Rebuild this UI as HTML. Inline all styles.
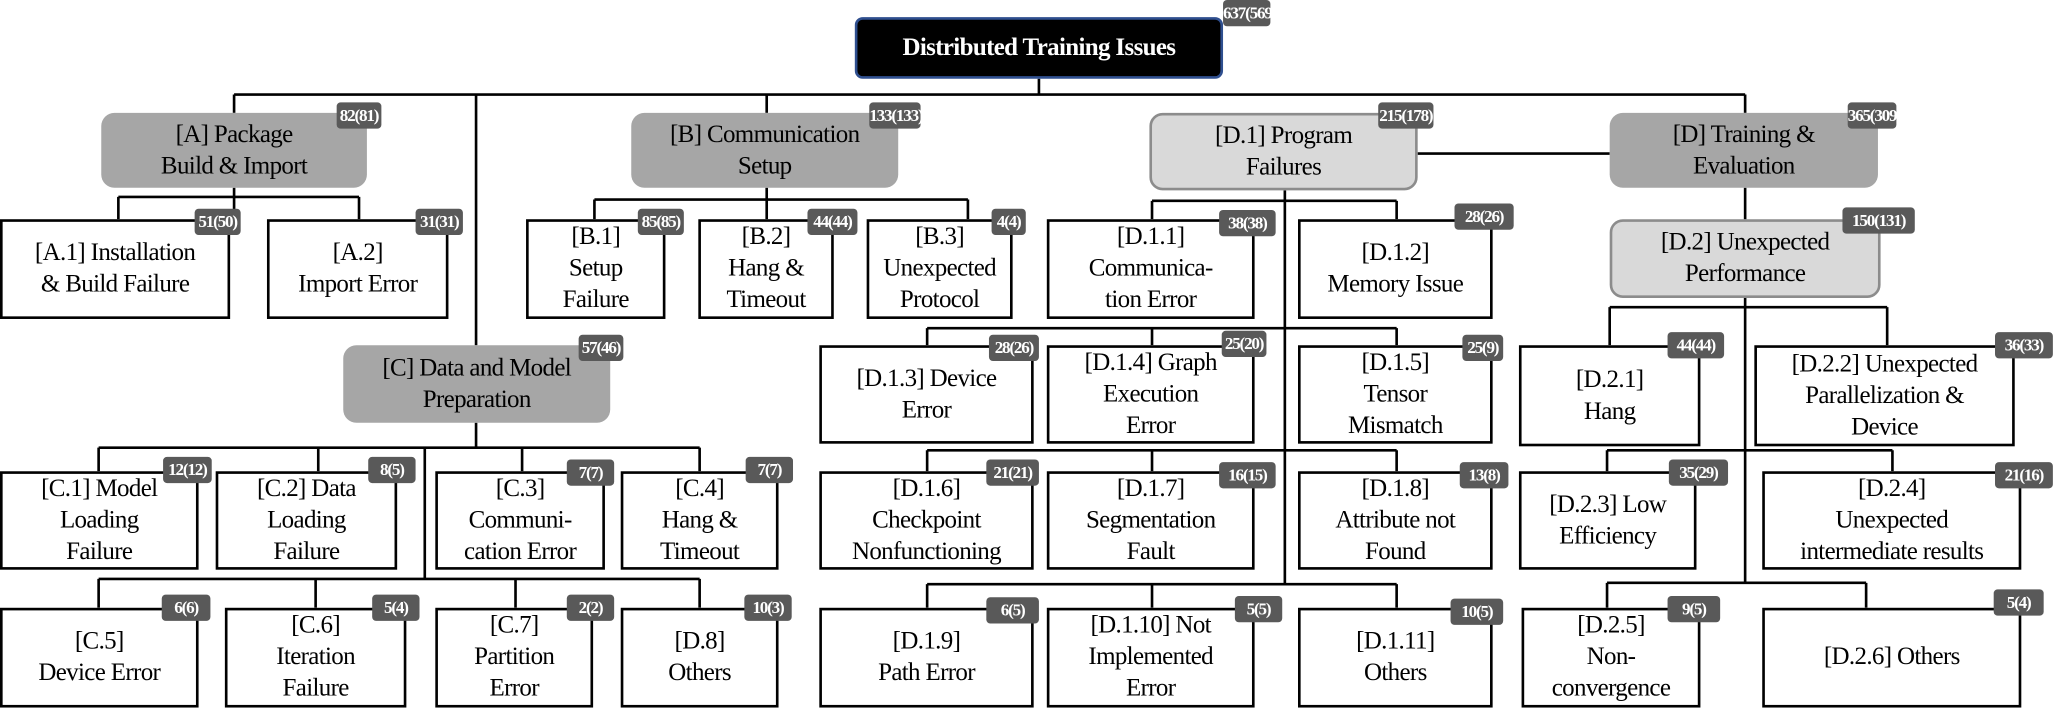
<!DOCTYPE html>
<html><head><meta charset="utf-8"><style>
html,body{margin:0;padding:0;background:#fff;}
body{width:2062px;height:722px;overflow:hidden;position:relative;}
#c{position:absolute;left:0;top:0;width:1568px;height:550px;transform:scale(1.3151,1.3127);transform-origin:0 0;font-family:"Liberation Serif","Times New Roman","DejaVu Serif",serif;}
.b{position:absolute;box-sizing:border-box;border:2px solid #000;background:#fff;display:flex;align-items:center;justify-content:center;text-align:center;font-size:19px;line-height:24px;letter-spacing:-0.5px;color:#000;font-family:"Liberation Serif","Times New Roman",serif;}
.g{background:#a6a6a6;border:none;border-radius:10px;}
.l{background:#d9d9d9;border:2px solid #8c8c8c;border-radius:10px;}
.k{position:absolute;background:#595959;color:#fff;font-weight:bold;font-size:13px;line-height:20px;height:20px;border-radius:3px;text-align:center;letter-spacing:-0.9px;white-space:nowrap;font-family:"Liberation Serif","Times New Roman",serif;}
svg{position:absolute;left:0;top:0;}
</style></head><body><div id="c">
<svg width="1568" height="550"><g stroke="#000" stroke-width="2" fill="none">
<path d="M790 60V72M178 72H1327M178 72V86M583 72V86M1327 72V86M362 72V263M1078 117H1224"/>
<path d="M178 143V167M90 150H273M90 150V167M273 150V167"/>
<path d="M583 143V167M452 152H736M452 152V167M736 152V167"/>
<path d="M362 322V341M75 341H532M75 341V359M242 341V359M397 341V359M532 341V359M323 341V441M75 441H532M75 441V463M240 441V463M392 441V463M532 441V463"/>
<path d="M977 145V445M876 153H1062M876 153V167M1062 153V167M705 250H1062M705 250V263M876 250V263M1062 250V263M705 343H1062M705 343V359M876 343V359M1062 343V359M705 445H1062M705 445V463M876 445V463M1062 445V463"/>
<path d="M1327 143V167M1327 227V444M1224 234H1435M1224 234V263M1435 234V263M1222 343H1439M1222 343V359M1439 343V359M1222 444H1419M1222 444V463M1419 444V463"/>
</g></svg>

<div class="b" style="left:650px;top:13px;width:280px;height:47px;background:#000;color:#fff;border:2px solid #2f4f8f;border-radius:6px;font-weight:bold;font-size:19px;">Distributed Training Issues</div>
<div class="k" style="left:930px;top:0;width:36px;">637(569)</div>

<div class="b g" style="left:77px;top:86px;width:202px;height:57px;">[A] Package<br>Build &amp; Import</div><div class="k" style="left:256px;top:78px;width:34px;">82(81)</div>
<div class="b g" style="left:480px;top:86px;width:203px;height:57px;">[B] Communication<br>Setup</div><div class="k" style="left:661px;top:78px;width:39px;">133(133)</div>
<div class="b l" style="left:874px;top:86px;width:204px;height:59px;">[D.1] Program<br>Failures</div><div class="k" style="left:1048px;top:78px;width:42px;">215(178)</div>
<div class="b g" style="left:1224px;top:86px;width:204px;height:57px;">[D] Training &amp;<br>Evaluation</div><div class="k" style="left:1405px;top:78px;width:37px;">365(309)</div>

<div class="b" style="left:0;top:167px;width:175px;height:76px;">[A.1] Installation<br>&amp; Build Failure</div><div class="k" style="left:148px;top:159px;width:35px;">51(50)</div>
<div class="b" style="left:203px;top:167px;width:138px;height:76px;">[A.2]<br>Import Error</div><div class="k" style="left:316px;top:159px;width:36px;">31(31)</div>
<div class="b" style="left:400px;top:167px;width:106px;height:76px;">[B.1]<br>Setup<br>Failure</div><div class="k" style="left:485px;top:159px;width:35px;">85(85)</div>
<div class="b" style="left:531px;top:167px;width:103px;height:76px;">[B.2]<br>Hang &amp;<br>Timeout</div><div class="k" style="left:614px;top:159px;width:38px;">44(44)</div>
<div class="b" style="left:659px;top:167px;width:111px;height:76px;">[B.3]<br>Unexpected<br>Protocol</div><div class="k" style="left:754px;top:159px;width:26px;">4(4)</div>

<div class="b g" style="left:261px;top:263px;width:203px;height:59px;">[C] Data and Model<br>Preparation</div><div class="k" style="left:440px;top:255px;width:34px;">57(46)</div>

<div class="b" style="left:796px;top:167px;width:158px;height:76px;">[D.1.1]<br>Communica-<br>tion Error</div><div class="k" style="left:927px;top:160px;width:43px;">38(38)</div>
<div class="b" style="left:987px;top:167px;width:148px;height:76px;">[D.1.2]<br>Memory Issue</div><div class="k" style="left:1106px;top:155px;width:45px;">28(26)</div>

<div class="b l" style="left:1224px;top:167px;width:206px;height:60px;">[D.2] Unexpected<br>Performance</div><div class="k" style="left:1401px;top:158px;width:55px;">150(131)</div>

<div class="b" style="left:623px;top:263px;width:163px;height:75px;">[D.1.3] Device<br>Error</div><div class="k" style="left:752px;top:255px;width:38px;">28(26)</div>
<div class="b" style="left:796px;top:263px;width:158px;height:75px;">[D.1.4] Graph<br>Execution<br>Error</div><div class="k" style="left:929px;top:252px;width:34px;">25(20)</div>
<div class="b" style="left:987px;top:263px;width:148px;height:75px;">[D.1.5]<br>Tensor<br>Mismatch</div><div class="k" style="left:1112px;top:255px;width:31px;">25(9)</div>
<div class="b" style="left:1155px;top:263px;width:138px;height:77px;">[D.2.1]<br>Hang</div><div class="k" style="left:1268px;top:253px;width:43px;">44(44)</div>
<div class="b" style="left:1334px;top:263px;width:198px;height:77px;">[D.2.2] Unexpected<br>Parallelization &amp;<br>Device</div><div class="k" style="left:1517px;top:253px;width:44px;">36(33)</div>

<div class="b" style="left:0;top:359px;width:151px;height:75px;">[C.1] Model<br>Loading<br>Failure</div><div class="k" style="left:124px;top:348px;width:37px;">12(12)</div>
<div class="b" style="left:164px;top:359px;width:138px;height:75px;">[C.2] Data<br>Loading<br>Failure</div><div class="k" style="left:280px;top:348px;width:36px;">8(5)</div>
<div class="b" style="left:331px;top:359px;width:129px;height:75px;">[C.3]<br>Communi-<br>cation Error</div><div class="k" style="left:431px;top:350px;width:36px;">7(7)</div>
<div class="b" style="left:472px;top:359px;width:120px;height:75px;">[C.4]<br>Hang &amp;<br>Timeout</div><div class="k" style="left:567px;top:348px;width:36px;">7(7)</div>
<div class="b" style="left:623px;top:359px;width:163px;height:75px;">[D.1.6]<br>Checkpoint<br>Nonfunctioning</div><div class="k" style="left:750px;top:350px;width:40px;">21(21)</div>
<div class="b" style="left:796px;top:359px;width:158px;height:75px;">[D.1.7]<br>Segmentation<br>Fault</div><div class="k" style="left:927px;top:352px;width:43px;">16(15)</div>
<div class="b" style="left:987px;top:359px;width:148px;height:75px;">[D.1.8]<br>Attribute not<br>Found</div><div class="k" style="left:1110px;top:352px;width:37px;">13(8)</div>
<div class="b" style="left:1155px;top:359px;width:135px;height:75px;">[D.2.3] Low<br>Efficiency</div><div class="k" style="left:1269px;top:350px;width:45px;">35(29)</div>
<div class="b" style="left:1340px;top:359px;width:197px;height:75px;">[D.2.4]<br>Unexpected<br>intermediate results</div><div class="k" style="left:1517px;top:352px;width:44px;">21(16)</div>

<div class="b" style="left:0;top:463px;width:151px;height:76px;">[C.5]<br>Device Error</div><div class="k" style="left:123px;top:453px;width:37px;">6(6)</div>
<div class="b" style="left:171px;top:463px;width:138px;height:76px;">[C.6]<br>Iteration<br>Failure</div><div class="k" style="left:283px;top:453px;width:36px;">5(4)</div>
<div class="b" style="left:331px;top:463px;width:120px;height:76px;">[C.7]<br>Partition<br>Error</div><div class="k" style="left:431px;top:453px;width:36px;">2(2)</div>
<div class="b" style="left:472px;top:463px;width:120px;height:76px;">[D.8]<br>Others</div><div class="k" style="left:566px;top:453px;width:36px;">10(3)</div>
<div class="b" style="left:623px;top:463px;width:163px;height:76px;">[D.1.9]<br>Path Error</div><div class="k" style="left:750px;top:455px;width:40px;">6(5)</div>
<div class="b" style="left:796px;top:463px;width:158px;height:76px;">[D.1.10] Not<br>Implemented<br>Error</div><div class="k" style="left:939px;top:454px;width:36px;">5(5)</div>
<div class="b" style="left:987px;top:463px;width:148px;height:76px;">[D.1.11]<br>Others</div><div class="k" style="left:1103px;top:456px;width:40px;">10(5)</div>
<div class="b" style="left:1157px;top:463px;width:136px;height:76px;">[D.2.5]<br>Non-<br>convergence</div><div class="k" style="left:1268px;top:454px;width:40px;">9(5)</div>
<div class="b" style="left:1340px;top:463px;width:197px;height:76px;">[D.2.6] Others</div><div class="k" style="left:1516px;top:449px;width:38px;">5(4)</div>
</div></body></html>
